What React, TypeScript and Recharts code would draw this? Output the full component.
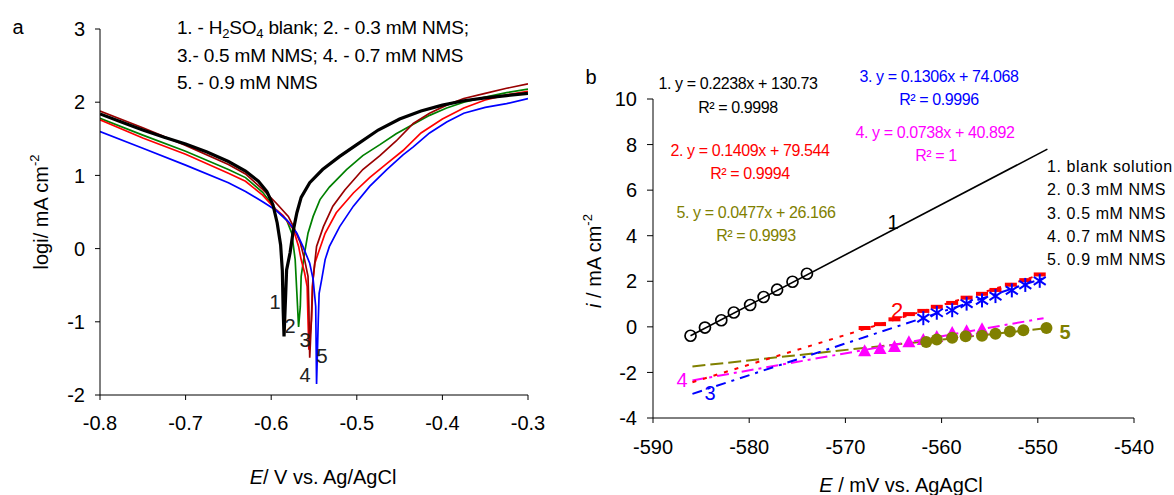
import React from 'react';
import { ComposedChart, Line, XAxis, YAxis } from 'recharts';

const FONT = "'Liberation Sans', Arial, Helvetica, sans-serif";

// ---- panel a: Tafel curves, E (V) vs log i ----
const aTicksX = [-0.8, -0.7, -0.6, -0.5, -0.4, -0.3];
const aTicksY = [-2, -1, 0, 1, 2, 3];

const curveBlank = [
  [-0.8, 1.84], [-0.775, 1.73], [-0.75, 1.62], [-0.725, 1.52], [-0.7, 1.43], [-0.675, 1.32],
  [-0.65, 1.19], [-0.63, 1.06], [-0.615, 0.92], [-0.605, 0.78], [-0.598, 0.6], [-0.593, 0.35],
  [-0.589, 0.05], [-0.587, -0.3], [-0.586, -0.85], [-0.585, -1.2], [-0.583, -0.6], [-0.582, -0.29],
  [-0.578, -0.06], [-0.574, 0.26], [-0.57, 0.49], [-0.565, 0.7], [-0.555, 0.9], [-0.54, 1.08],
  [-0.52, 1.26], [-0.5, 1.42], [-0.475, 1.62], [-0.45, 1.77], [-0.425, 1.88], [-0.4, 1.96],
  [-0.375, 2.02], [-0.35, 2.06], [-0.325, 2.09], [-0.3, 2.12],
];
const curve03 = [
  [-0.8, 1.78], [-0.75, 1.55], [-0.7, 1.33], [-0.65, 1.08], [-0.63, 0.97], [-0.61, 0.77],
  [-0.595, 0.54], [-0.582, 0.39], [-0.576, 0.21], [-0.572, -0.15], [-0.57, -0.61], [-0.568, -1.07],
  [-0.566, -0.79], [-0.565, -0.38], [-0.561, -0.06], [-0.557, 0.21], [-0.551, 0.44], [-0.543, 0.67],
  [-0.532, 0.84], [-0.512, 1.08], [-0.493, 1.27], [-0.473, 1.42], [-0.454, 1.57], [-0.434, 1.7],
  [-0.415, 1.82], [-0.395, 1.92], [-0.375, 2.0], [-0.35, 2.07], [-0.325, 2.13], [-0.3, 2.18],
];
const curve05 = [
  [-0.8, 1.76], [-0.75, 1.51], [-0.7, 1.29], [-0.65, 1.03], [-0.63, 0.92], [-0.61, 0.73],
  [-0.595, 0.54], [-0.586, 0.45], [-0.574, 0.26], [-0.568, 0.03], [-0.565, -0.15], [-0.561, -0.33],
  [-0.558, -0.52], [-0.557, -0.97], [-0.556, -1.38], [-0.553, -0.97], [-0.552, -0.52], [-0.549, -0.2],
  [-0.545, -0.06], [-0.537, 0.21], [-0.524, 0.49], [-0.504, 0.76], [-0.485, 0.97], [-0.465, 1.16],
  [-0.446, 1.34], [-0.425, 1.58], [-0.4, 1.77], [-0.375, 1.92], [-0.35, 2.03], [-0.325, 2.1], [-0.3, 2.15],
];
const curve07 = [
  [-0.8, 1.88], [-0.75, 1.65], [-0.7, 1.41], [-0.65, 1.15], [-0.63, 1.02], [-0.61, 0.81],
  [-0.594, 0.62], [-0.58, 0.44], [-0.574, 0.3], [-0.566, 0.08], [-0.561, -0.15], [-0.557, -0.38],
  [-0.556, -0.79], [-0.555, -1.49], [-0.553, -0.97], [-0.551, -0.4], [-0.547, 0.03], [-0.539, 0.3],
  [-0.528, 0.58], [-0.514, 0.8], [-0.493, 1.08], [-0.473, 1.27], [-0.454, 1.47], [-0.434, 1.71],
  [-0.415, 1.85], [-0.395, 1.96], [-0.375, 2.05], [-0.35, 2.12], [-0.325, 2.19], [-0.3, 2.25],
];
const curve09 = [
  [-0.8, 1.6], [-0.75, 1.37], [-0.7, 1.14], [-0.65, 0.9], [-0.63, 0.78], [-0.61, 0.64],
  [-0.594, 0.52], [-0.58, 0.37], [-0.57, 0.21], [-0.563, 0.03], [-0.555, -0.2], [-0.551, -0.42],
  [-0.548, -0.79], [-0.547, -1.85], [-0.545, -0.97], [-0.544, -0.61], [-0.541, -0.42], [-0.537, -0.15],
  [-0.532, 0.03], [-0.52, 0.3], [-0.504, 0.58], [-0.485, 0.85], [-0.465, 1.08], [-0.446, 1.28],
  [-0.434, 1.39], [-0.415, 1.58], [-0.395, 1.73], [-0.375, 1.85], [-0.35, 1.93], [-0.325, 1.98], [-0.3, 2.05],
];

// ---- panel b: linear region, E (mV) vs i ----
const bTicksX = [-590, -580, -570, -560, -550, -540];
const bTicksY = [-4, -2, 0, 2, 4, 6, 8, 10];

const ptsBlank = [
  [-586.1, -0.39], [-584.6, -0.03], [-582.9, 0.29], [-581.6, 0.63], [-579.9, 0.96],
  [-578.5, 1.31], [-577.1, 1.63], [-575.5, 1.98], [-574.0, 2.33],
];
const pts03 = [
  [-568.0, -0.05], [-566.4, 0.12], [-564.9, 0.33], [-563.4, 0.56], [-561.9, 0.7], [-560.5, 0.88],
  [-558.9, 1.05], [-557.4, 1.28], [-555.8, 1.45], [-554.4, 1.62], [-552.8, 1.85], [-551.3, 2.05], [-549.8, 2.3],
];
const pts05 = [
  [-561.9, 0.38], [-560.5, 0.62], [-558.9, 0.73], [-557.4, 1.02], [-555.8, 1.16],
  [-554.4, 1.35], [-552.7, 1.6], [-551.3, 1.84], [-549.8, 2.02],
];
const pts07 = [
  [-568.0, -1.07], [-566.4, -0.97], [-564.9, -0.88], [-563.4, -0.68], [-561.9, -0.58],
  [-560.5, -0.44], [-558.9, -0.27], [-557.4, -0.19], [-555.8, -0.1],
];
const pts09 = [
  [-561.6, -0.66], [-560.5, -0.56], [-558.9, -0.48], [-557.5, -0.41], [-555.8, -0.39],
  [-554.4, -0.3], [-552.9, -0.2], [-551.5, -0.15], [-549.1, -0.05],
];

const fitBlank = [[-586.1, -0.39], [-549.0, 7.8]];
const fit03 = [[-585.9, -2.43], [-549.4, 2.33]];
const fit05 = [[-585.9, -2.94], [-549.5, 2.12]];
const fit07 = [[-585.9, -2.35], [-549.4, 0.38]];
const fit09 = [[-585.9, -1.74], [-549.1, -0.06]];

const toXY = (arr: number[][]) => arr.map(([x, y]) => ({ x, y }));

const tickStyle = { fontSize: 20, fill: '#000', fontFamily: FONT };

// marker shapes
const openCircle = (p: any) =>
  p.cx == null ? null : (
    <circle key={p.index} cx={p.cx} cy={p.cy} r={5.5} fill="none" stroke="#000" strokeWidth={1.7} />
  );
const redDash = (p: any) =>
  p.cx == null ? null : (
    <rect key={p.index} x={p.cx - 6} y={p.cy - 2} width={12} height={4} fill="#ff0000" />
  );
const blueStar = (p: any) =>
  p.cx == null ? null : (
    <g key={p.index} stroke="#0000ff" strokeWidth={2}>
      <line x1={p.cx} y1={p.cy - 7} x2={p.cx} y2={p.cy + 7} />
      <line x1={p.cx - 6} y1={p.cy - 4} x2={p.cx + 6} y2={p.cy + 4} />
      <line x1={p.cx - 6} y1={p.cy + 4} x2={p.cx + 6} y2={p.cy - 4} />
    </g>
  );
const magentaTri = (p: any) =>
  p.cx == null ? null : (
    <path
      key={p.index}
      d={`M${p.cx},${p.cy - 7} L${p.cx + 6.5},${p.cy + 5} L${p.cx - 6.5},${p.cy + 5} Z`}
      fill="#ff00ff"
    />
  );
const oliveDot = (p: any) =>
  p.cx == null ? null : <circle key={p.index} cx={p.cx} cy={p.cy} r={6} fill="#808000" />;

function PanelA() {
  const curves = [
    { data: curve03, color: '#008000', w: 1.7 },
    { data: curve05, color: '#ff0000', w: 1.7 },
    { data: curve07, color: '#990000', w: 1.7 },
    { data: curve09, color: '#0000ff', w: 1.7 },
    { data: curveBlank, color: '#000000', w: 3.2 },
  ];
  return (
    <ComposedChart width={560} height={495} margin={{ top: 29, right: 32, bottom: 70, left: 0 }}>
      <XAxis
        type="number"
        dataKey="x"
        domain={[-0.8, -0.3]}
        ticks={aTicksX}
        interval={0}
        height={30}
        tickSize={5}
        tickMargin={16}
        stroke="#000"
        tick={tickStyle}
        allowDataOverflow
      />
      <YAxis
        type="number"
        domain={[-2, 3]}
        ticks={aTicksY}
        interval={0}
        width={100}
        tickSize={5}
        tickMargin={10}
        stroke="#000"
        tick={tickStyle}
        allowDataOverflow
      />
      {curves.map((c, i) => (
        <Line
          key={i}
          data={toXY(c.data)}
          dataKey="y"
          type="linear"
          stroke={c.color}
          strokeWidth={c.w}
          dot={false}
          isAnimationActive={false}
        />
      ))}
    </ComposedChart>
  );
}

function PanelB() {
  const fits = [
    { data: fitBlank, color: '#000000', dash: undefined },
    { data: fit09, color: '#808000', dash: '13 5' },
    { data: fit07, color: '#ff00ff', dash: '12 5 3 5' },
    { data: fit05, color: '#0000ff', dash: '10 6 3 6' },
    { data: fit03, color: '#ff0000', dash: '4 7' },
  ];
  const marks = [
    { data: ptsBlank, dot: openCircle },
    { data: pts03, dot: redDash },
    { data: pts05, dot: blueStar },
    { data: pts07, dot: magentaTri },
    { data: pts09, dot: oliveDot },
  ];
  return (
    <ComposedChart width={614} height={495} margin={{ top: 99, right: 40, bottom: 47, left: 0 }}>
      <XAxis
        type="number"
        dataKey="x"
        domain={[-590, -540]}
        ticks={bTicksX}
        interval={0}
        height={30}
        tickSize={5}
        tickMargin={17}
        stroke="#000"
        tick={tickStyle}
        allowDataOverflow
      />
      <YAxis
        type="number"
        domain={[-4, 10]}
        ticks={bTicksY}
        interval={0}
        width={93}
        tickSize={6}
        tickMargin={10}
        stroke="#000"
        tick={tickStyle}
        allowDataOverflow
      />
      {fits.map((f, i) => (
        <Line
          key={'f' + i}
          data={toXY(f.data)}
          dataKey="y"
          type="linear"
          stroke={f.color}
          strokeWidth={f.color === '#000000' ? 1.6 : 2}
          strokeDasharray={f.dash}
          dot={false}
          isAnimationActive={false}
        />
      ))}
      {marks.map((m, i) => (
        <Line
          key={'m' + i}
          data={toXY(m.data)}
          dataKey="y"
          type="linear"
          stroke="none"
          dot={m.dot}
          activeDot={false}
          isAnimationActive={false}
        />
      ))}
    </ComposedChart>
  );
}

// baseline for a text whose visual centre is at y
const mid = (y: number, size: number) => y + size * 0.35;

function Overlay() {
  return (
    <svg
      width={1174}
      height={495}
      style={{ position: 'absolute', left: 0, top: 0, pointerEvents: 'none' }}
      fontFamily={FONT}
    >
      {/* panel a */}
      <text x={18} y={mid(27, 20)} fontSize={20} textAnchor="middle" fill="#000">a</text>
      <g fontSize={19} fill="#000" letterSpacing={-0.2}>
        <text x={177} y={mid(27, 19)}>
          1. - H<tspan dy={4} fontSize={13}>2</tspan>
          <tspan dy={-4}>SO</tspan>
          <tspan dy={4} fontSize={13}>4</tspan>
          <tspan dy={-4}> blank; 2. - 0.3 mM NMS;</tspan>
        </text>
        <text x={177} y={mid(55, 19)}>3.- 0.5 mM NMS; 4. - 0.7 mM NMS</text>
        <text x={177} y={mid(82, 19)}>5. - 0.9 mM NMS</text>
      </g>
      <text transform="translate(41,212) rotate(-90)" textAnchor="middle" y={7} fontSize={20} fill="#000">
        logi/ mA cm<tspan dy={-9} fontSize={13}>-2</tspan>
      </text>
      <text x={323} y={mid(477, 20)} textAnchor="middle" fontSize={20} fill="#000">
        <tspan fontStyle="italic">E</tspan>/ V vs. Ag/AgCl
      </text>
      <g fontSize={20} fill="#222" textAnchor="middle">
        <text x={275} y={mid(302, 20)}>1</text>
        <text x={290} y={mid(326, 20)}>2</text>
        <text x={305} y={mid(340, 20)}>3</text>
        <text x={305} y={mid(375, 20)}>4</text>
        <text x={322} y={mid(356, 20)}>5</text>
      </g>

      {/* panel b */}
      <text x={591} y={mid(77, 20)} fontSize={20} textAnchor="middle" fill="#000">b</text>
      <g fontSize={16} textAnchor="middle" letterSpacing={-0.4}>
        <text x={738} y={mid(83, 16)} fill="#000">1. y = 0.2238x + 130.73</text>
        <text x={738} y={mid(107, 16)} fill="#000">R² = 0.9998</text>
        <text x={939} y={mid(76, 16)} fill="#0000ff">3. y = 0.1306x + 74.068</text>
        <text x={939} y={mid(99, 16)} fill="#0000ff">R² = 0.9996</text>
        <text x={935} y={mid(132, 16)} fill="#ff00ff">4. y = 0.0738x + 40.892</text>
        <text x={936} y={mid(155, 16)} fill="#ff00ff">R² = 1</text>
        <text x={750} y={mid(150, 16)} fill="#ff0000">2. y = 0.1409x + 79.544</text>
        <text x={750} y={mid(173, 16)} fill="#ff0000">R² = 0.9994</text>
        <text x={756} y={mid(212, 16)} fill="#808000">5. y = 0.0477x + 26.166</text>
        <text x={756} y={mid(235, 16)} fill="#808000">R² = 0.9993</text>
      </g>
      <g fontSize={16} fill="#000" letterSpacing={0.6}>
        <text x={1047} y={mid(166, 16)}>1. blank solution</text>
        <text x={1047} y={mid(189, 16)}>2. 0.3 mM NMS</text>
        <text x={1047} y={mid(213, 16)}>3. 0.5 mM NMS</text>
        <text x={1047} y={mid(236, 16)}>4. 0.7 mM NMS</text>
        <text x={1047} y={mid(259, 16)}>5. 0.9 mM NMS</text>
      </g>
      <text transform="translate(594,261) rotate(-90)" textAnchor="middle" y={7} fontSize={20} fill="#000">
        <tspan fontStyle="italic">i</tspan> / mA cm<tspan dy={-9} fontSize={13}>-2</tspan>
      </text>
      <text x={901} y={mid(485, 20)} textAnchor="middle" fontSize={20} fill="#000">
        <tspan fontStyle="italic">E</tspan> / mV vs. AgAgCl
      </text>
      <g fontSize={20} textAnchor="middle">
        <text x={893} y={mid(222, 20)} fill="#000">1</text>
        <text x={897} y={mid(310, 22)} fontSize={22} fill="#ff0000">2</text>
        <text x={710} y={mid(393, 20)} fill="#0000ff">3</text>
        <text x={682} y={mid(380, 20)} fill="#ff00ff">4</text>
        <text x={1065} y={mid(332, 20)} fontWeight="bold" fill="#808000">5</text>
      </g>
    </svg>
  );
}

export default function App() {
  return (
    <div
      style={{
        position: 'absolute',
        left: 0,
        top: 0,
        width: 1174,
        height: 495,
        background: '#fff',
        fontFamily: FONT,
        overflow: 'hidden',
      }}
    >
      <div style={{ position: 'absolute', left: 0, top: 0 }}>
        <PanelA />
      </div>
      <div style={{ position: 'absolute', left: 560, top: 0 }}>
        <PanelB />
      </div>
      <Overlay />
    </div>
  );
}
